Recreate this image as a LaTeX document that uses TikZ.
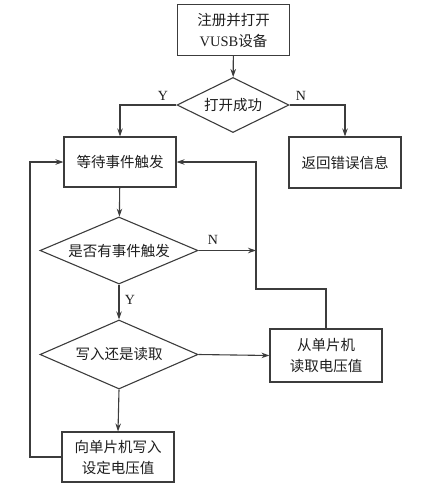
\documentclass[tikz,border=0pt]{standalone}
\usepackage{fontspec}
\setmainfont{Liberation Serif}
\newfontfamily\cjk{Noto Sans CJK SC}
\usetikzlibrary{shapes.geometric,arrows.meta}
\definecolor{ln}{HTML}{3C3C3C}
\definecolor{tx}{HTML}{1E1E1E}
\tikzset{
  procbox/.style={draw=ln,line width=1.1pt,rectangle,minimum width=112pt,align=center,text=tx,inner sep=0pt,font=\fontsize{14.5}{21}\selectfont},
  decbox/.style={draw=ln,line width=1.1pt,diamond,inner sep=0pt,align=center,text=tx,font=\fontsize{14.5}{21}\selectfont\cjk},
  conn/.style={draw=ln,line width=1.1pt},
  arr/.style={conn,-{Stealth[length=8pt,width=5.5pt]}},
  lbl/.style={text=tx,font=\fontsize{14}{16}\selectfont}
}
\begin{document}
\begin{tikzpicture}[x=1pt,y=-1pt]
\useasboundingbox (0,0) rectangle (441,493);
\node[procbox,minimum height=51pt] (b1) at (233.5,30) {\cjk 注册并打开\\VUSB{\cjk 设备}};
\node[decbox,shape aspect=2,minimum width=112pt,minimum height=55pt] (d1) at (233,105) {打开成功};
\node[procbox,minimum height=50pt] (b2) at (120,162) {\cjk 等待事件触发};
\node[procbox,minimum height=51pt] (b3) at (345,162.5) {\cjk 返回错误信息};
\node[decbox,shape aspect=2.3,minimum width=158pt,minimum height=67pt] (d2) at (119,250.5) {是否有事件触发};
\node[decbox,shape aspect=2.3,minimum width=158pt,minimum height=69pt] (d3) at (119,354.5) {写入还是读取};
\node[procbox,minimum height=53pt] (b5) at (326,355.5) {\cjk 从单片机\\\cjk 读取电压值};
\node[procbox,minimum height=50pt] (b6) at (118,457) {\cjk 向单片机写入\\\cjk 设定电压值};
\coordinate (r1) at (256,289);
\coordinate (j) at (256,250.5);
\coordinate (l1) at (30,457);
\draw[arr] (b1) -- (d1);
\draw[arr] (d1.west) -| (b2.north);
\node[lbl] (ly1) at (163,96) {Y};
\draw[arr] (d1.east) -| (b3.north);
\node[lbl] (ln1) at (301,96) {N};
\draw[arr] (b2) -- (d2);
\draw[arr] (d2.east) -- (j);
\node[lbl] (ln2) at (213,240) {N};
\draw[arr] (b5.north) |- (r1) |- (b2.east);
\draw[arr] (d2.south) -- (d3.north);
\node[lbl] (ly2) at (130,300) {Y};
\draw[arr] (d3.east) -- (b5.west);
\draw[arr] (d3.south) -- (b6.north);
\draw[arr] (b6.west) -- (l1) |- (b2.west);
\end{tikzpicture}
\end{document}
